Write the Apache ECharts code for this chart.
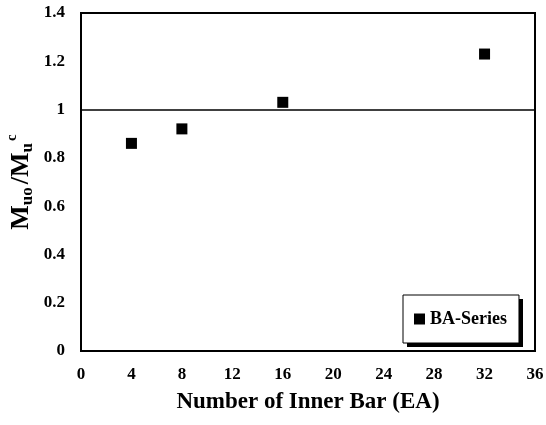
<!DOCTYPE html>
<html>
<head>
<meta charset="utf-8">
<script src="https://cdn.jsdelivr.net/npm/echarts@6/dist/echarts.min.js"></script>
<style>
  html, body { margin: 0; padding: 0; background: #fff; }
</style>
</head>
<body>
<div id="chart" style="width: 546px; height: 425px"></div>
<script>
const innerBars = [4, 8, 16, 32]
const momentRatio = [0.86, 0.92, 1.03, 1.23]
const xTicks = [0, 4, 8, 12, 16, 20, 24, 28, 32, 36]
const yTicks = [0, 0.2, 0.4, 0.6, 0.8, 1, 1.2, 1.4]

const font = '"Liberation Serif", "Times New Roman", serif'

const chart = echarts.init(document.getElementById('chart'))

const option = {
  backgroundColor: '#fff',
  animation: false,
  textStyle: { fontFamily: font },
  grid: {
    left: 81,
    right: 11,
    top: 13,
    bottom: 74,
    outerBoundsMode: 'none',
    containLabel: false,
    show: true,
    borderColor: '#000',
    borderWidth: 2,
  },
  // drop shadow behind the legend box
  graphic: [
    {
      type: 'rect',
      left: 407,
      top: 299,
      z: 1,
      shape: { width: 116, height: 48 },
      style: { fill: '#000' },
    },
  ],
  legend: {
    data: ['BA-Series'],
    left: 403,
    top: 295,
    z: 5,
    orient: 'vertical',
    padding: [15, 12, 15, 11],
    itemWidth: 11,
    itemHeight: 11,
    itemGap: 0,
    backgroundColor: '#fff',
    borderColor: '#000',
    borderWidth: 1,
    borderRadius: 0,
    textStyle: {
      fontFamily: font,
      fontSize: 18,
      fontWeight: 'bold',
      color: '#000',
    },
  },
  xAxis: {
    type: 'value',
    min: xTicks[0],
    max: xTicks[xTicks.length - 1],
    interval: 4,
    name: 'Number of Inner Bar (EA)',
    nameLocation: 'middle',
    nameMoveOverlap: false,
    nameGap: 40,
    nameTextStyle: {
      fontFamily: font,
      fontSize: 23,
      fontWeight: 'bold',
      color: '#000',
    },
    axisLine: { lineStyle: { color: '#000', width: 2 } },
    axisTick: { show: false },
    splitLine: { show: false },
    axisLabel: {
      margin: 15,
      fontFamily: font,
      fontSize: 17,
      fontWeight: 'bold',
      color: '#000',
    },
  },
  yAxis: {
    type: 'value',
    min: yTicks[0],
    max: yTicks[yTicks.length - 1],
    interval: 0.2,
    name: '{m|M}{s|uo} {m|/M}{s|u}{c|c}',
    nameLocation: 'middle',
    nameMoveOverlap: false,
    nameGap: 43,
    nameRotate: 90,
    nameTextStyle: {
      fontFamily: font,
      fontWeight: 'bold',
      color: '#000',
      rich: {
        m: { fontFamily: font, fontSize: 26, fontWeight: 'bold', color: '#000', lineHeight: 34, verticalAlign: 'middle' },
        s: { fontFamily: font, fontSize: 17, fontWeight: 'bold', color: '#000', lineHeight: 34, verticalAlign: 'bottom', padding: [0, 0, 2, 0] },
        c: { fontFamily: font, fontSize: 15, fontWeight: 'bold', color: '#000', lineHeight: 34, verticalAlign: 'top', padding: [1, 0, 0, 2] },
      },
    },
    axisLine: { show: true, lineStyle: { color: '#000', width: 2 } },
    axisTick: { show: false },
    splitLine: { show: false },
    axisLabel: {
      margin: 16,
      fontFamily: font,
      fontSize: 17,
      fontWeight: 'bold',
      color: '#000',
      formatter: (v) => String(Math.round(v * 10) / 10),
    },
  },
  series: [
    {
      name: 'BA-Series',
      type: 'scatter',
      symbol: 'rect',
      symbolSize: 11,
      itemStyle: { color: '#000', opacity: 1 },
      data: innerBars.map((x, i) => [x, momentRatio[i]]),
      markLine: {
        silent: true,
        symbol: 'none',
        label: { show: false },
        lineStyle: { color: '#000', width: 1.5, type: 'solid', opacity: 1 },
        data: [{ yAxis: 1 }],
      },
    },
  ],
}

chart.setOption(option)
</script>
</body>
</html>
